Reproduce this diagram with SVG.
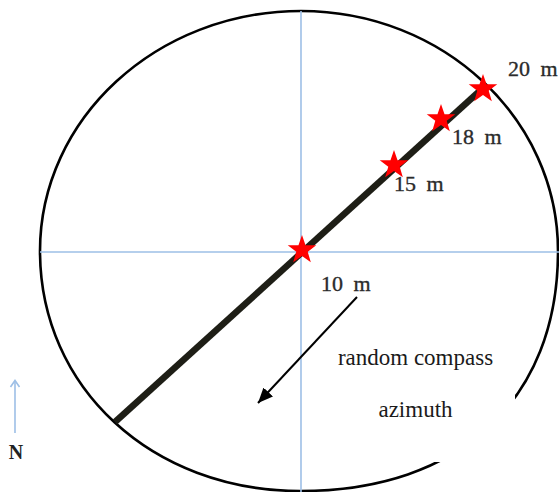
<svg xmlns="http://www.w3.org/2000/svg" width="559" height="492" viewBox="0 0 559 492">
  <style>
    .axis { stroke: #9dbfe6; stroke-width: 1.6; fill: none; }
    .lbl { font-family: "Liberation Serif", serif; font-size: 22px; fill: #2b2b2b; stroke: #2b2b2b; stroke-width: 0.35; word-spacing: 5px; }
    .txt { font-family: "Liberation Serif", serif; font-size: 23px; fill: #1a1a1a; }
    .star { fill: #ff0000; }
  </style>
  <defs>
    <path id="star" d="M0,-15 L3.53,-4.85 L14.27,-4.64 L5.71,1.85 L8.82,12.14 L0,6 L-8.82,12.14 L-5.71,1.85 L-14.27,-4.64 L-3.53,-4.85 Z"/>
    <marker id="ah" markerUnits="userSpaceOnUse" markerWidth="16" markerHeight="14" refX="15" refY="6.5" orient="auto">
      <path d="M0,0 L15,6.5 L0,13 Z" fill="#000"/>
    </marker>
  </defs>
  <rect width="559" height="492" fill="#fff"/>

  <g id="plot">
    <path d="M301,11 C443,11 558,118.5 558,251 C558,399.8 460,491 300,491 C152,491 40,387.8 40,251 C40,118.5 157,11 301,11 Z" fill="none" stroke="#000" stroke-width="2.6"/>
    <rect x="322" y="330" width="193" height="132" fill="#fff"/>
  </g>

  <g id="connectors">
    <line class="axis" x1="301" y1="11" x2="301" y2="492"/>
    <line class="axis" x1="40" y1="252" x2="559" y2="252"/>
    <line x1="115" y1="422" x2="483" y2="88" stroke="#1e1e16" stroke-width="6.5"/>
    <line x1="357" y1="297" x2="258" y2="403" stroke="#000" stroke-width="2" marker-end="url(#ah)"/>
    <line class="axis" x1="15" y1="433" x2="15" y2="381"/>
    <polyline class="axis" points="10.5,387 15,380.5 19.5,387"/>
  </g>

  <g id="star-10"><use href="#star" class="star" x="302" y="250"/></g>
  <g id="star-15"><use href="#star" class="star" x="394" y="165"/></g>
  <g id="star-18"><use href="#star" class="star" x="441" y="119"/></g>
  <g id="star-20"><use href="#star" class="star" x="483" y="89"/></g>

  <g id="labels">
    <text class="lbl" x="508" y="76">20 m</text>
    <text class="lbl" x="452" y="144">18 m</text>
    <text class="lbl" x="394" y="191">15 m</text>
    <text class="lbl" x="321" y="291">10 m</text>
    <text class="txt" x="415.5" y="365" text-anchor="middle">random compass</text>
    <text class="txt" x="415.5" y="417" text-anchor="middle">azimuth</text>
    <text x="16" y="459" text-anchor="middle" font-family="Liberation Serif, serif" font-size="20" font-weight="bold" fill="#222">N</text>
  </g>
</svg>
